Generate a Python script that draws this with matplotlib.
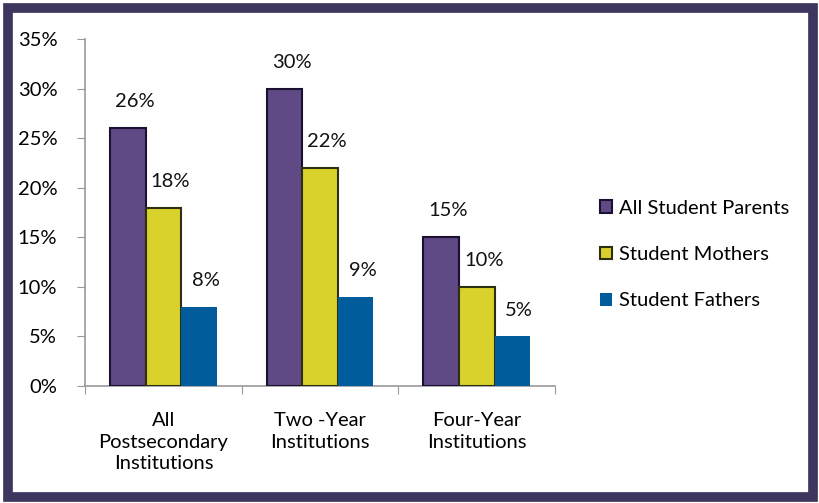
import numpy as np
import matplotlib
matplotlib.use("Agg")
import matplotlib.pyplot as plt
from matplotlib.patches import Rectangle

# data
categories = ['All\nPostsecondary\nInstitutions', 'Two -Year\nInstitutions', 'Four-Year\nInstitutions']
series_names = ['All Student Parents', 'Student Mothers', 'Student Fathers']
parents = [26, 30, 15]
mothers = [18, 22, 10]
fathers = [8, 9, 5]
yticks = [0, 5, 10, 15, 20, 25, 30, 35]

colors = ['#604a86', '#d9d22c', '#005c9b']
edges = ['#1c1030', '#2e2e10', 'none']

plt.rcParams['font.family'] = ['Lato', 'DejaVu Sans']
fs = 14.5

fig = plt.figure(figsize=(8.2, 5.03), dpi=100)
ax = fig.add_axes([0.1037, 0.2326, 0.5733, 0.69])

x = np.arange(len(categories))
w = 0.227
for i, (vals, name) in enumerate(zip([parents, mothers, fathers], series_names)):
    pos = x + (i - 1) * w
    ax.bar(pos, vals, width=w, color=colors[i], edgecolor=edges[i],
           linewidth=1.5 if edges[i] != 'none' else 0, label=name, zorder=3)
    for px, v in zip(pos, vals):
        ax.annotate(f'{v}%', (px, v), xytext=(5, 19), textcoords='offset points',
                    ha='center', va='center', fontsize=fs, color='#111111')

ax.set_xlim(-0.5, 2.5)
ax.set_ylim(0, 35)
ax.set_yticks(yticks)
ax.set_yticklabels([f'{t}%' for t in yticks], fontsize=fs)
ax.set_xticks([-0.5, 0.5, 1.5, 2.5])
ax.set_xticklabels([])
ax.set_xticks(x, minor=True)
ax.set_xticklabels(categories, minor=True, fontsize=fs, linespacing=1.32)
ax.tick_params(axis='x', which='minor', length=0, pad=19)
ax.tick_params(axis='x', which='major', length=6, color='#999999', direction='out')
ax.tick_params(axis='y', length=6, color='#999999', direction='out', pad=14)

for s in ['top', 'right']:
    ax.spines[s].set_visible(False)
ax.spines['left'].set_color('#999999')
ax.spines['bottom'].set_color('#999999')
ax.spines['left'].set_linewidth(1.2)
ax.spines['bottom'].set_linewidth(1.2)

leg = fig.legend(loc='center left', bbox_to_anchor=(0.71, 0.494), frameon=False,
                 fontsize=fs, handlelength=0.6, handleheight=0.6, handletextpad=0.35,
                 labelspacing=1.45)

# dark frame around the figure
fig.patches.append(Rectangle((0.0095, 0.0125), 0.982, 0.972, transform=fig.transFigure,
                             fill=False, edgecolor='#3f365f', linewidth=7))

fig.savefig('out.png', dpi=100)
